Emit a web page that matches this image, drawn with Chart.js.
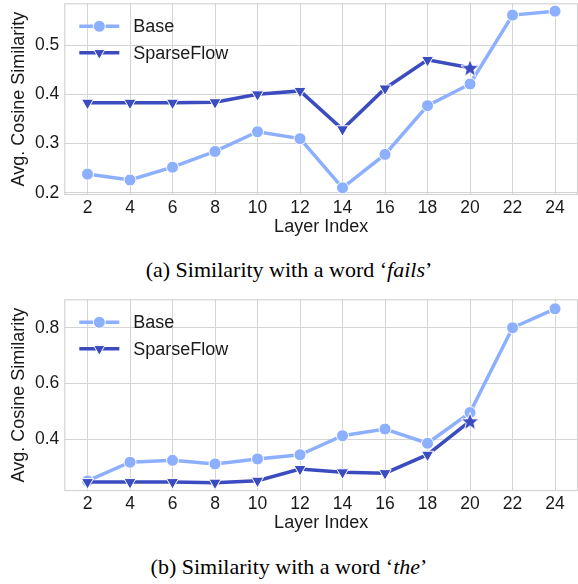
<!DOCTYPE html>
<html>
<head>
<meta charset="utf-8">
<script src="https://cdn.jsdelivr.net/npm/chart.js@4.4.1/dist/chart.umd.min.js"></script>
<style>
  html, body { margin: 0; padding: 0; background: #ffffff; }
  body { width: 578px; height: 584px; position: relative; overflow: hidden; }
  .box { position: absolute; left: 0; width: 578px; }
  .cap { position: absolute; left: 0; width: 578px; text-align: center;
         font-family: "Liberation Serif", "Times New Roman", serif; font-size: 22px;
         line-height: 26px; color: #000; }
</style>
</head>
<body>
<div class="box" style="top:0px;height:250px"><canvas id="c1" width="578" height="250"></canvas></div>
<div class="cap" style="top:257px">(a) Similarity with a word ‘<i>fails</i>’</div>
<div class="box" style="top:296px;height:250px"><canvas id="c2" width="578" height="250"></canvas></div>
<div class="cap" style="top:554px">(b) Similarity with a word ‘<i>the</i>’</div>
<script>
// ---- data ----
const layers = [2, 4, 6, 8, 10, 12, 14, 16, 18, 20, 22, 24];
const sparseLayers = [2, 4, 6, 8, 10, 12, 14, 16, 18, 20];
const seriesNames = ["Base", "SparseFlow"];

const baseA   = [0.238, 0.226, 0.252, 0.284, 0.324, 0.310, 0.210, 0.278, 0.377, 0.421, 0.561, 0.569];
const sparseA = [0.383, 0.383, 0.383, 0.384, 0.400, 0.407, 0.329, 0.412, 0.470, 0.454];
const yTicksA = [0.2, 0.3, 0.4, 0.5];

const baseB   = [0.251, 0.318, 0.325, 0.312, 0.330, 0.345, 0.413, 0.437, 0.386, 0.496, 0.800, 0.868];
const sparseB = [0.247, 0.247, 0.247, 0.245, 0.252, 0.294, 0.282, 0.279, 0.345, 0.465];
const yTicksB = [0.4, 0.6, 0.8];

const xTitle = "Layer Index";
const yTitle = "Avg. Cosine Similarity";

// ---- style ----
const BASE_COLOR = "#8db0fe";
const SPARSE_COLOR = "#3b4cc0";
const GRID = "#d4d4d4";
const TEXT = "#1a1a1a";
const SANS = "'Liberation Sans', Arial, sans-serif";

function makeStar(color) {
  const s = 24, c = document.createElement("canvas");
  c.width = s; c.height = s;
  const g = c.getContext("2d");
  const R = 9.5, r = 4.0, cx = s / 2, cy = s / 2 + 0.8;
  g.beginPath();
  for (let i = 0; i < 10; i++) {
    const rad = (i % 2 === 0) ? R : r;
    const a = -Math.PI / 2 + i * Math.PI / 5;
    const px = cx + rad * Math.cos(a), py = cy + rad * Math.sin(a);
    if (i === 0) g.moveTo(px, py); else g.lineTo(px, py);
  }
  g.closePath();
  g.fillStyle = color; g.fill();
  g.lineWidth = 1; g.strokeStyle = "#ffffff"; g.stroke();
  return c;
}
const starImg = makeStar(SPARSE_COLOR);

function pts(xs, ys) { return xs.map((x, i) => ({ x: x, y: ys[i] })); }

const framePlugin = {
  id: "frame",
  beforeDatasetsDraw(chart) {
    const a = chart.chartArea, ctx = chart.ctx;
    ctx.save();
    ctx.strokeStyle = GRID; ctx.lineWidth = 1.2;
    ctx.strokeRect(a.left + 0.5, a.top + 0.5, a.right - a.left - 1, a.bottom - a.top - 1);
    ctx.restore();
  }
};

const legendPlugin = {
  id: "innerLegend",
  afterDatasetsDraw(chart) {
    const a = chart.chartArea, ctx = chart.ctx;
    const x0 = a.left + 15, x1 = a.left + 55, xm = a.left + 35, xt = a.left + 69;
    const rows = [a.top + 23, a.top + 49.5];
    ctx.save();
    seriesNames.forEach((name, i) => {
      const y = rows[i];
      const col = i === 0 ? BASE_COLOR : SPARSE_COLOR;
      ctx.strokeStyle = col; ctx.lineWidth = 3.5; ctx.lineCap = "butt";
      ctx.beginPath(); ctx.moveTo(x0, y); ctx.lineTo(x1, y); ctx.stroke();
      ctx.fillStyle = col; ctx.strokeStyle = "#ffffff"; ctx.lineWidth = 1;
      ctx.beginPath();
      if (i === 0) {
        ctx.arc(xm, y, 6, 0, Math.PI * 2);
      } else {
        const r = 6.5;
        ctx.moveTo(xm, y + r);
        ctx.lineTo(xm - r * 0.866, y - r * 0.5);
        ctx.lineTo(xm + r * 0.866, y - r * 0.5);
        ctx.closePath();
      }
      ctx.fill(); ctx.stroke();
      ctx.fillStyle = TEXT;
      ctx.font = "18px " + SANS;
      ctx.textBaseline = "middle"; ctx.textAlign = "left";
      ctx.fillText(name, xt, y + 1);
    });
    ctx.restore();
  }
};

function build(id, baseVals, sparseVals, yTicks, yMin, yMax) {
  const n = sparseLayers.length;
  const sparseStyles = sparseLayers.map((_, i) => i === n - 1 ? starImg : "triangle");
  const sparseRot = sparseLayers.map((_, i) => i === n - 1 ? 0 : 180);
  const sparseRad = sparseLayers.map((_, i) => i === n - 1 ? 10 : 7);
  return new Chart(document.getElementById(id), {
    type: "line",
    data: {
      datasets: [
        {
          label: seriesNames[0], data: pts(layers, baseVals), order: 2,
          borderColor: BASE_COLOR, backgroundColor: BASE_COLOR, borderWidth: 3.5,
          pointStyle: "circle", pointRadius: 6, pointBackgroundColor: BASE_COLOR,
          pointBorderColor: "#ffffff", pointBorderWidth: 1, tension: 0, clip: false
        },
        {
          label: seriesNames[1], data: pts(sparseLayers, sparseVals), order: 1,
          borderColor: SPARSE_COLOR, backgroundColor: SPARSE_COLOR, borderWidth: 3.5,
          pointStyle: sparseStyles, pointRotation: sparseRot, pointRadius: sparseRad,
          pointBackgroundColor: SPARSE_COLOR, pointBorderColor: "#ffffff",
          pointBorderWidth: 1, tension: 0, clip: false
        }
      ]
    },
    options: {
      responsive: false, animation: false, devicePixelRatio: 1,
      layout: { autoPadding: false, padding: { top: 3.3, right: 0, left: 0, bottom: 0 } },
      plugins: { legend: { display: false }, tooltip: { enabled: false } },
      events: [],
      scales: {
        x: {
          type: "linear", min: 0.908, max: 25.08,
          afterBuildTicks: s => { s.ticks = layers.map(v => ({ value: v })); },
          afterFit: s => { s.height = 55; s.paddingLeft = 0; s.paddingRight = 0; },
          grid: { color: GRID, lineWidth: 1, drawTicks: false },
          border: { display: false },
          ticks: { color: TEXT, font: { family: SANS, size: 17.5 }, padding: 3,
                   maxRotation: 0, autoSkip: false, callback: v => String(v) },
          title: { display: true, text: xTitle, color: TEXT,
                   font: { family: SANS, size: 18 }, padding: { top: 0, bottom: 12 } }
        },
        y: {
          type: "linear", min: yMin, max: yMax,
          afterBuildTicks: s => { s.ticks = yTicks.map(v => ({ value: v })); },
          afterFit: s => { s.width = 64.3; s.paddingTop = 0; s.paddingBottom = 0; },
          grid: { color: GRID, lineWidth: 1, drawTicks: false },
          border: { display: false },
          ticks: { color: TEXT, font: { family: SANS, size: 17.5 }, padding: 5,
                   callback: v => String(Math.round(v * 10) / 10) },
          title: { display: true, text: yTitle, color: TEXT,
                   font: { family: SANS, size: 18 }, padding: { top: 8, bottom: 0 } }
        }
      }
    },
    plugins: [framePlugin, legendPlugin]
  });
}

build("c1", baseA, sparseA, yTicksA, 0.1955, 0.585);
build("c2", baseB, sparseB, yTicksB, 0.215, 0.902);
</script>
</body>
</html>
